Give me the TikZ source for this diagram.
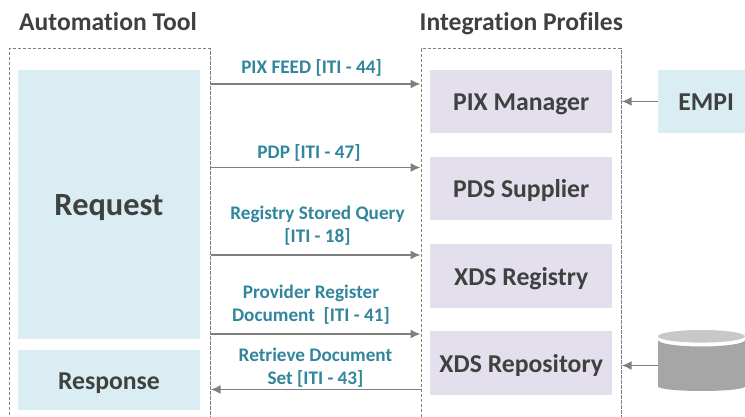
\documentclass[tikz,border=0pt]{standalone}
\usepackage{fontspec}
\setmainfont[Ligatures=NoCommon]{Carlito}
\usetikzlibrary{arrows.meta}
\definecolor{bluefill}{HTML}{DAEDF3}
\definecolor{purplefill}{HTML}{E4DFEC}
\definecolor{darktext}{HTML}{404040}
\definecolor{teal}{HTML}{31859C}
\definecolor{arrowgray}{HTML}{7F7F7F}
\definecolor{cylbody}{HTML}{A6A6A6}
\definecolor{cyltop}{HTML}{C8C8C8}
\tikzset{
  px/.style={x=1pt,y=-1pt},
  title/.style={font=\bfseries\fontsize{25.6}{28}\selectfont,text=darktext,inner sep=0pt},
  group/.style={draw=arrowgray,line width=1.2pt,dash pattern=on 3.2pt off 1.8pt,inner sep=0pt,anchor=north west},
  box/.style={inner sep=0pt,anchor=north west,font=\bfseries\fontsize{25.7}{28}\selectfont,text=darktext,text height=18.5pt,text depth=0pt},
  bluebox/.style={box,fill=bluefill},
  purplebox/.style={box,fill=purplefill,minimum width=182pt,minimum height=63.5pt},
  flow/.style={font=\bfseries\fontsize{19.2}{23}\selectfont,text=teal,align=center,inner sep=0pt},
  link/.style={draw=arrowgray,line width=1.5pt,-{Latex[length=10pt,width=9pt]}},
}
\begin{document}
\begin{tikzpicture}[px]
\useasboundingbox (0,0) rectangle (745,417);
\clip (0,0) rectangle (745,417);
\node[title,anchor=base west] (t1) at (19,31) {Automation Tool};
\node[title,anchor=base west] (t2) at (419.5,31) {Integration Profiles};
\node[group,minimum width=201pt,minimum height=400pt] (auto) at (8.5,48) {};
\node[group,minimum width=200pt,minimum height=400pt] (integ) at (420.5,48) {};
\node[bluebox,minimum width=182.5pt,minimum height=269pt,font=\bfseries\fontsize{32.4}{34}\selectfont,text height=23pt] (req) at (17.5,69.5) {Request};
\node[bluebox,minimum width=182.5pt,minimum height=59.5pt] (resp) at (17.5,350) {Response};
\node[purplebox] (pix) at (430,69.5) {PIX Manager};
\node[purplebox] (pds) at (430,156.5) {PDS Supplier};
\node[purplebox] (reg) at (430,244) {XDS Registry};
\node[purplebox] (rep) at (430,331) {XDS Repository};
\node[bluebox,minimum width=96pt,minimum height=63.5pt] (empi) at (658,69.5) {EMPI};
% cylinder
\fill[cylbody] (658,340) -- (658,386.5) arc[start angle=180,end angle=360,x radius=43.5pt,y radius=4.5pt] -- (745,340) arc[start angle=360,end angle=180,x radius=43.5pt,y radius=6.5pt] -- cycle;
\fill[cyltop] (701.5,336.3) ellipse[x radius=43.5pt,y radius=6.3pt];
\coordinate (cyl) at (658,365.5);
% connectors
\draw[link] (auto.east |- 0,84) -- (integ.west |- 0,84);
\draw[link] (auto.east |- 0,167.5) -- (integ.west |- 0,167.5);
\draw[link] (auto.east |- 0,255) -- (integ.west |- 0,255);
\draw[link] (auto.east |- 0,334) -- (integ.west |- 0,334);
\draw[link] (integ.west |- 0,389.5) -- (auto.east |- 0,389.5);
\draw[link] (empi.west) -- (integ.east |- empi.west);
\draw[link] (cyl) -- (integ.east |- cyl);
% labels
\node[flow] (l1) at (311.5,67.5) {PIX FEED [ITI - 44]};
\node[flow] (l2) at (309,152.5) {PDP [ITI - 47]};
\node[flow] (l3) at (317.5,225.5) {Registry Stored Query\\{}[ITI - 18]};
\node[flow] (l4) at (311,305) {Provider Register\\Document\ \ [ITI - 41]};
\node[flow] (l5) at (315.5,367.5) {Retrieve Document\\Set [ITI - 43]};
\end{tikzpicture}
\end{document}
